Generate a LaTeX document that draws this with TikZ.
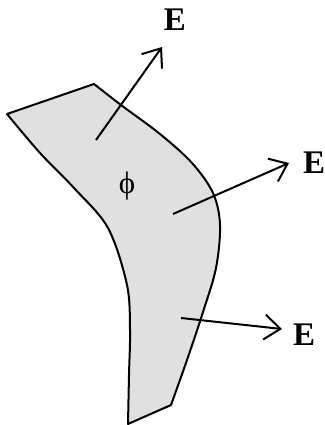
\documentclass[tikz,border=0pt]{standalone}
\usepackage{fontspec}
\setmainfont{Liberation Serif}
\usetikzlibrary{arrows.meta}
\definecolor{shapegray}{HTML}{E0E0E0}
\tikzset{
  outline/.style={draw=black, fill=shapegray, line width=2pt, line join=round},
  field/.style={line width=2pt, -{Straight Barb[length=16pt, width=25pt, line width=2pt]}},
  elabel/.style={font=\fontsize{33}{36}\selectfont\bfseries, inner sep=0pt},
  philabel/.style={font=\fontsize{31}{34}\selectfont, inner sep=0pt}
}
\begin{document}
\begin{tikzpicture}[x=1pt, y=-1pt]
\useasboundingbox (0,0) rectangle (324,425);
% surface
\path[outline] (7,114) -- (94,84)
  -- plot[smooth, tension=0.55] coordinates {(94,84) (121,105) (160,134) (192,163) (213,193) (220,225) (216,268) (203,312) (187,360) (171,405)}
  -- (128,424)
  -- plot[smooth, tension=0.55] coordinates {(128,424) (129,375) (130,330) (127,285) (108,228) (74,188) (40,153) (7,114)}
  -- cycle;
% phi
\node[philabel] (phi) at (127,186) {ϕ};
% field arrows
\coordinate (s1) at (96,140);
\coordinate (t1) at (162,47);
\coordinate (s2) at (173,214);
\coordinate (t2) at (289,163);
\coordinate (s3) at (181,318);
\coordinate (t3) at (282,329);
\draw[field] (s1) -- (t1);
\draw[field] (s2) -- (t2);
\draw[field] (s3) -- (t3);
\node[elabel] (e1) at (175,20) {E};
\node[elabel] (e2) at (314,163) {E};
\node[elabel] (e3) at (304,335) {E};
\end{tikzpicture}
\end{document}
